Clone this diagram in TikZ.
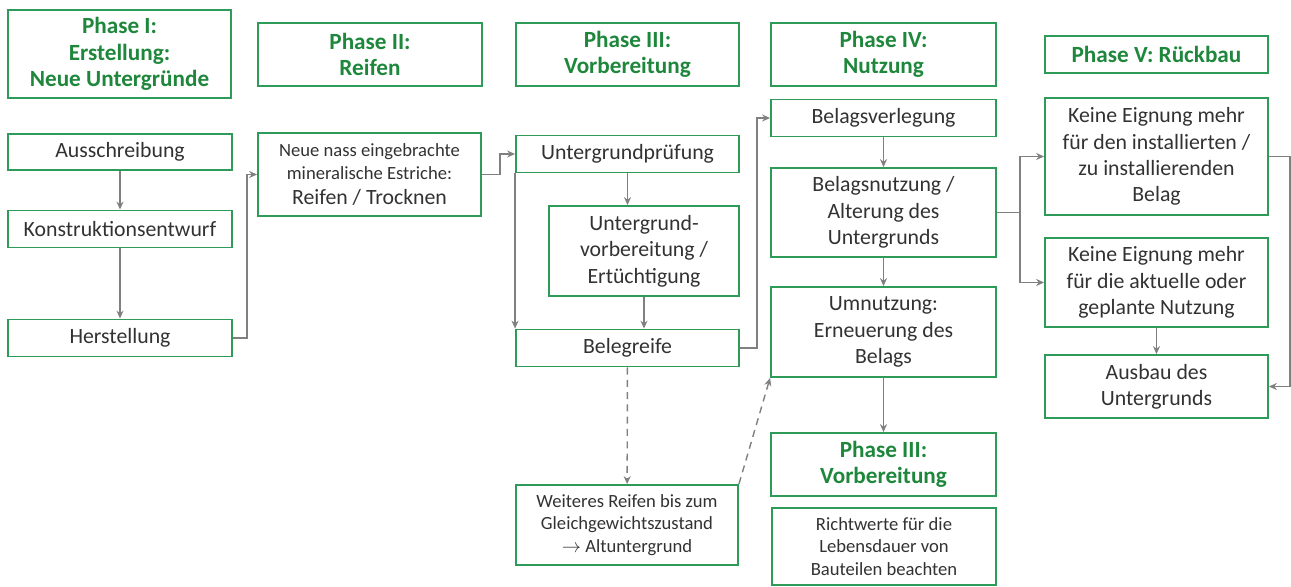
\documentclass[tikz,border=0pt]{standalone}
\usepackage{fontspec}
\setmainfont{Carlito}
\usetikzlibrary{calc,arrows.meta}

\definecolor{boxgreen}{RGB}{46,155,88}
\definecolor{hdgreen}{RGB}{30,135,60}
\definecolor{txtgray}{RGB}{50,50,50}
\definecolor{arrgray}{RGB}{128,128,128}

\tikzset{
  box/.style={draw=boxgreen, line width=1.1pt, align=center, text=txtgray, inner sep=1pt,
    font=\fontsize{12.4}{15}\selectfont},
  hdr/.style={box, text=hdgreen, font=\fontsize{13.2}{15}\selectfont\bfseries},
  small/.style={font=\fontsize{10.6}{13}\selectfont},
  arr/.style={draw=arrgray, line width=0.8pt, -{Stealth[length=4.5pt,width=4pt]}},
  darr/.style={arr, dashed, dash pattern=on 4pt off 3pt}
}

\begin{document}
\begin{tikzpicture}[x=0.02cm, y=-0.02cm]
\useasboundingbox (0,0) rectangle (1291,586);
% phase headers
\node[hdr, minimum width=4.46cm, minimum height=1.76cm] (ph1) at (119.5,54) {Phase I:\\Erstellung:\\Neue Untergründe};
\node[hdr, minimum width=4.48cm, minimum height=1.26cm] (ph2) at (370,54.5) {Phase II:\\Reifen};
\node[hdr, minimum width=4.46cm, minimum height=1.26cm] (ph3) at (627.5,54.5) {Phase III:\\Vorbereitung};
\node[hdr, minimum width=4.50cm, minimum height=1.26cm] (ph4) at (883.5,54.5) {Phase IV:\\Nutzung};
\node[hdr, minimum width=4.46cm, minimum height=0.74cm] (ph5) at (1156.5,54.5) {Phase V: Rückbau};
% phase I
\node[box, minimum width=4.48cm, minimum height=0.72cm] (aus) at (120,152) {Ausschreibung};
\node[box, minimum width=4.48cm, minimum height=0.74cm] (kon) at (120,229) {Konstruktionsentwurf};
\node[box, minimum width=4.48cm, minimum height=0.74cm] (her) at (120,338) {Herstellung};
% phase II
\node[box, small, minimum width=4.46cm, minimum height=1.66cm] (neu) at (369.5,174.5)
  {Neue nass eingebrachte\\mineralische Estriche:\\[1pt]\fontsize{12.4}{13}\selectfont Reifen / Trocknen};
% phase III
\node[box, minimum width=4.46cm, minimum height=0.74cm] (upr) at (627.5,154) {Untergrundprüfung};
\node[box, minimum width=3.80cm, minimum height=1.80cm] (uvb) at (644,251) {Untergrund-\\vorbereitung /\\Ertüchtigung};
\node[box, minimum width=4.46cm, minimum height=0.74cm] (beg) at (627.5,348) {Belegreife};
\node[box, small, minimum width=4.44cm, minimum height=1.60cm] (wei) at (627,525)
  {Weiteres Reifen bis zum\\Gleichgewichtszustand\\$\rightarrow$ Altuntergrund};
% phase IV
\node[box, minimum width=4.50cm, minimum height=0.74cm] (bver) at (883.5,118) {Belagsverlegung};
\node[box, minimum width=4.50cm, minimum height=1.78cm] (bnut) at (883.5,212.5) {Belagsnutzung /\\Alterung des\\Untergrunds};
\node[box, minimum width=4.50cm, minimum height=1.80cm] (umn) at (883.5,332) {Umnutzung:\\Erneuerung des\\Belags};
\node[hdr, minimum width=4.50cm, minimum height=1.26cm] (ph3b) at (883.5,464.5) {Phase III:\\Vorbereitung};
\node[box, small, minimum width=4.48cm, minimum height=1.54cm] (richt) at (884,546.5)
  {Richtwerte für die\\Lebensdauer von\\Bauteilen beachten};
% phase V
\node[box, minimum width=4.46cm, minimum height=2.34cm] (ke1) at (1156.5,156.5)
  {Keine Eignung mehr\\für den installierten /\\zu installierenden\\Belag};
\node[box, minimum width=4.46cm, minimum height=1.78cm] (ke2) at (1156.5,282.5)
  {Keine Eignung mehr\\für die aktuelle oder\\geplante Nutzung};
\node[box, minimum width=4.46cm, minimum height=1.26cm] (ausb) at (1156.5,386.5) {Ausbau des\\Untergrunds};

% connectors
\draw[arr] (aus) -- (kon);
\draw[arr] (kon) -- (her);
\draw[arr] (her.east) -- ++(14,0) |- (neu.west);
\draw[arr] (neu.east) -- ++(18,0) |- (upr.west);
\draw[arr] (upr.south) -- (upr.south |- uvb.north);
\draw[arr] (uvb.south) -- (uvb.south |- beg.north);
\draw[arr] (upr.south west) -- (beg.north west);
\draw[arr] (beg.east) -- ++(17,0) |- (bver.west);
\draw[arr] (bver) -- (bnut);
\draw[arr] (bnut) -- (umn);
\draw[arr] (umn) -- (ph3b);
\draw[darr] (beg) -- (wei);
\draw[darr] (wei.north east) -- (umn.south west);
\coordinate (split) at ($(bnut.east)+(23,0)$);
\draw[draw=arrgray, line width=0.8pt] (bnut.east) -- (split);
\draw[arr] (split) |- (ke1.west);
\draw[arr] (split) |- (ke2.west);
\draw[arr] (ke1.east) -- ++(21,0) |- (ausb.east);
\draw[arr] (ke2) -- (ausb);
\end{tikzpicture}
\end{document}
